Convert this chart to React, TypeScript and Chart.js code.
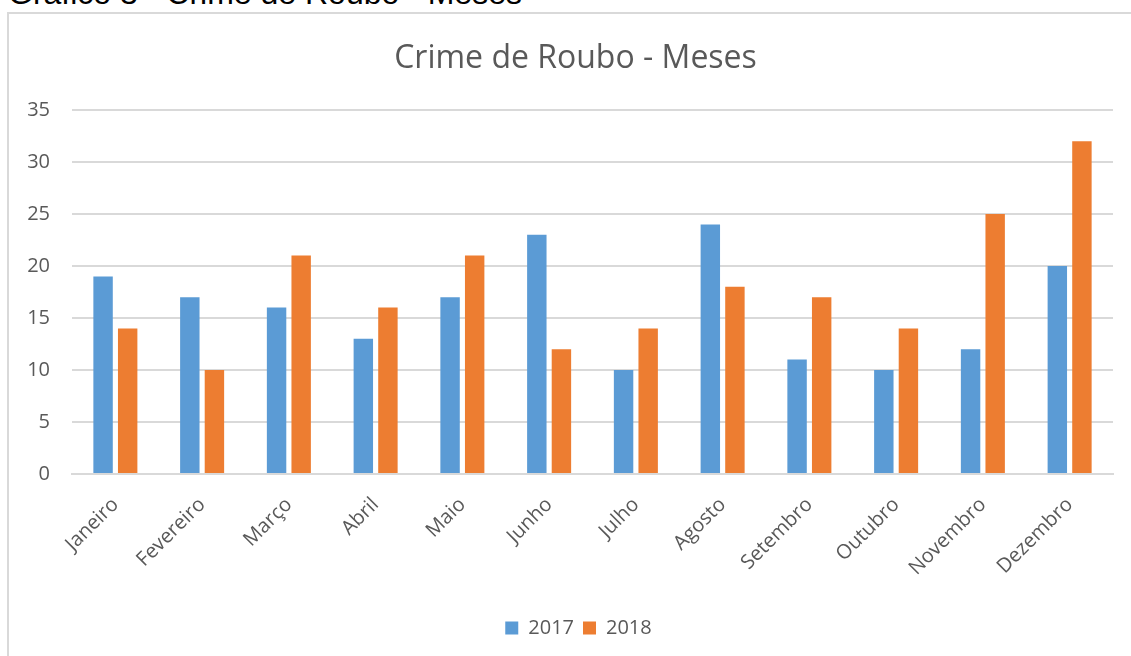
import React, { useEffect, useRef } from "react";
import { Chart, registerables } from "chart.js";

Chart.register(...registerables);

const months = [
  "Janeiro", "Fevereiro", "Março", "Abril", "Maio", "Junho",
  "Julho", "Agosto", "Setembro", "Outubro", "Novembro", "Dezembro",
];
const values2017 = [19, 17, 16, 13, 17, 23, 10, 24, 11, 10, 12, 20];
const values2018 = [14, 10, 21, 16, 21, 12, 14, 18, 17, 14, 25, 32];
const seriesLabels = ["2017", "2018"];
const chartTitle = "Crime de Roubo - Meses";
const docCaption = "Gráfico 3 - Crime de Roubo - Meses";

const FONT = "'Open Sans', 'Noto Sans', sans-serif";
const TEXT = "#595959";
const GRID = "#d9d9d9";

const blockShift = {
  id: "blockShift",
  afterLayout(chart: any) {
    const lg = chart.legend;
    if (lg) lg.left += 44;
    const tb = chart.titleBlock;
    if (tb) tb.left += 38;
  },
};

export default function App() {
  const ref = useRef<HTMLCanvasElement | null>(null);

  useEffect(() => {
    if (!ref.current) return;
    const chart = new Chart(ref.current, {
      type: "bar",
      data: {
        labels: months,
        datasets: [
          {
            label: seriesLabels[0],
            data: values2017,
            backgroundColor: "#5B9BD5",
            barPercentage: 0.79,
            categoryPercentage: 0.567,
          },
          {
            label: seriesLabels[1],
            data: values2018,
            backgroundColor: "#ED7D31",
            barPercentage: 0.79,
            categoryPercentage: 0.567,
          },
        ],
      },
      plugins: [blockShift],
      options: {
        animation: false,
        responsive: false,
        maintainAspectRatio: false,
        layout: { padding: { left: 0, right: 18, top: 0, bottom: 8 } },
        plugins: {
          title: {
            display: true,
            text: chartTitle,
            color: TEXT,
            font: { family: FONT, size: 32, weight: "normal" },
            padding: { top: 40, bottom: 31.6 },
          },
          legend: {
            display: true,
            position: "bottom",
            labels: {
              color: TEXT,
              font: { family: FONT, size: 20 },
              boxWidth: 13,
              boxHeight: 13,
              padding: 9,
            },
          },
          tooltip: { enabled: false },
        },
        scales: {
          x: {
            grid: { display: false, drawTicks: false },
            border: { display: true, color: GRID, width: 2 },
            ticks: {
              color: TEXT,
              font: { family: FONT, size: 20 },
              maxRotation: 45,
              minRotation: 45,
              padding: 19,
              autoSkip: false,
            },
            afterFit: (scale: any) => {
              scale.height = 135;
            },
          },
          y: {
            min: 0,
            max: 35,
            grid: { color: GRID, lineWidth: 2, drawTicks: false },
            border: { display: false },
            ticks: {
              stepSize: 5,
              color: TEXT,
              font: { family: FONT, size: 20 },
              padding: 22,
            },
            afterFit: (scale: any) => {
              scale.width = 72;
            },
          },
        },
      },
    });
    return () => chart.destroy();
  }, []);

  return (
    <div
      style={{
        position: "absolute",
        left: 0,
        top: 0,
        width: 1131,
        height: 656,
        overflow: "hidden",
        background: "#fff",
      }}
    >
      <div
        style={{
          position: "absolute",
          left: 8,
          top: -25,
          fontFamily: "'Liberation Sans', Arial, sans-serif",
          fontSize: 32,
          color: "#000",
          whiteSpace: "nowrap",
          lineHeight: "normal",
        }}
      >
        {docCaption}
      </div>
      <div
        style={{
          position: "absolute",
          left: 7,
          top: 12,
          width: 1200,
          height: 700,
          border: "2px solid #d9d9d9",
          boxSizing: "border-box",
        }}
      />
      <canvas
        ref={ref}
        width={1131}
        height={656}
        style={{ position: "absolute", left: 0, top: 0, width: 1131, height: 656 }}
      />
    </div>
  );
}
